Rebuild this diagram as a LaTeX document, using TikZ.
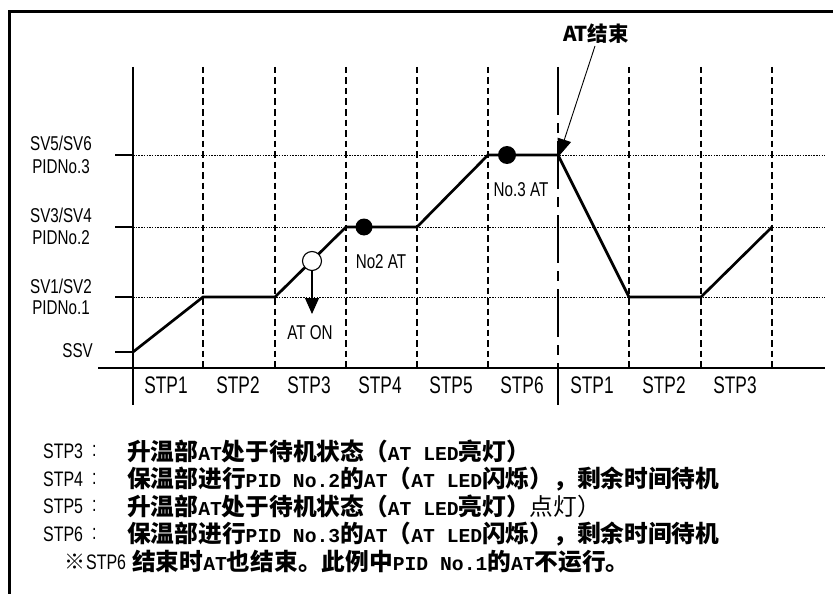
\documentclass[tikz,border=0pt]{standalone}
\usepackage{fontspec}
\usetikzlibrary{arrows.meta}
\newfontfamily\labf[FakeStretch=0.76]{Liberation Sans}
\newfontfamily\stpf[FakeStretch=0.72]{Liberation Sans}
\newfontfamily\cjkf{Noto Sans CJK SC}
\newfontfamily\monof{Liberation Mono}
\newcommand\ZH[1]{{\cjkf\bfseries #1}}
\newcommand\LA[1]{{\monof\bfseries\fontsize{19.7}{24}\selectfont #1}}
\tikzset{
  frameline/.style={line width=3pt},
  axisline/.style={line width=2.8pt},
  profline/.style={line width=2.7pt, line join=round},
  vdash/.style={line width=2.6pt, dash pattern=on 6.5pt off 4pt},
  atdash/.style={line width=2.5pt, dash pattern=on 48pt off 8pt on 10pt off 8pt},
  hdot/.style={line width=1pt, dash pattern=on 1.5pt off 1.2pt},
  lbl/.style={inner sep=0pt, font=\labf\fontsize{20}{24}\selectfont},
  leglbl/.style={inner sep=0pt, anchor=west, font=\labf\fontsize{21}{25}\selectfont},
  stplbl/.style={inner sep=0pt, font=\stpf\fontsize{24}{28}\selectfont},
  smalllbl/.style={inner sep=0pt, font=\labf\fontsize{20}{24}\selectfont},
  legend/.style={inner sep=0pt, anchor=west, font=\cjkf\fontsize{23.7}{28}\selectfont},
  opendot/.style={circle, draw, line width=1.1pt, fill=white, minimum size=19pt, inner sep=0pt},
  fulldot/.style={circle, fill=black, minimum size=18pt, inner sep=0pt},
  thinarrow/.style={line width=1.1pt, -{Triangle[length=16pt,width=14pt]}},
}
\begin{document}
\begin{tikzpicture}[x=1pt,y=-1pt]
\useasboundingbox (0,0) rectangle (833,594);
\fill[white] (0,0) rectangle (833,594);
\draw[frameline] (9,594) -- (9,12) -- (833,12);

% level dotted lines
\foreach \y in {155,227,297} \draw[hdot] (133,\y) -- (825,\y);
% ticks
\foreach \y in {155,227,297,352} \draw[axisline] (115,\y) -- (133,\y);
% step dashed lines
\foreach \x in {203,275,346,417,488,629,701,772} \draw[vdash] (\x,67) -- (\x,368);
% AT end line
\draw[atdash] (558,67) -- (558,405);
% axes
\draw[axisline] (133,67) -- (133,405);
\draw[axisline] (98,368) -- (825,368);

% profile
\coordinate (p0) at (133,352);
\coordinate (p1) at (203,297);
\coordinate (p2) at (275,297);
\coordinate (p3) at (346,227);
\coordinate (p4) at (417,227);
\coordinate (p5) at (488,155);
\coordinate (p6) at (558,155);
\coordinate (p7) at (629,297);
\coordinate (p8) at (701,297);
\coordinate (p9) at (772,227);
\draw[profline] (p0) -- (p1) -- (p2) -- (p3) -- (p4) -- (p5) -- (p6) -- (p7) -- (p8) -- (p9);

% markers
\node[opendot] (oc) at (312,261) {};
\node[fulldot, minimum size=17pt] (fc2) at (364,227) {};
\node[fulldot] (fc3) at (507,155) {};
\coordinate (ontip) at (312,314);
\draw[thinarrow] (oc.south) -- (ontip);

\node[smalllbl] (aton) at (310,333) {AT ON};
\node[smalllbl] (no2) at (381,262) {No2 AT};
\node[smalllbl] (no3) at (521,190) {No.3 AT};

\node[inner sep=0pt, font=\cjkf\bfseries\fontsize{20.5}{24}\selectfont] (atend) at (596,34) {AT结束};
\coordinate (atip) at (559,156);
\draw[line width=0.9pt, -{Triangle[length=17pt,width=14pt]}] ([xshift=-1pt,yshift=-2pt]atend.south) -- (atip);

% level labels
\node[lbl] (sv56) at (61,143) {SV5/SV6};
\node[lbl] (pid3) at (61,167) {PIDNo.3};
\node[lbl] (sv34) at (61,215) {SV3/SV4};
\node[lbl] (pid2) at (61,238) {PIDNo.2};
\node[lbl] (sv12) at (61,286) {SV1/SV2};
\node[lbl] (pid1) at (61,308) {PIDNo.1};
\node[lbl, anchor=east] (ssv) at (93,351) {SSV};

% step labels
\node[stplbl] (s1) at (166,385) {STP1};
\node[stplbl] (s2) at (238,385) {STP2};
\node[stplbl] (s3) at (309,385) {STP3};
\node[stplbl] (s4) at (380,385) {STP4};
\node[stplbl] (s5) at (451,385) {STP5};
\node[stplbl] (s6) at (522,385) {STP6};
\node[stplbl] (r1) at (592,385) {STP1};
\node[stplbl] (r2) at (664,385) {STP2};
\node[stplbl] (r3) at (735,385) {STP3};

% legend
\node[leglbl] (l3a) at (43,451) {STP3};
\node[leglbl] (l3b) at (92,451) {:};
\node[legend] (l3c) at (127,451) {\ZH{升温部}\LA{AT}\ZH{处于待机状态（}\LA{AT LED}\ZH{亮灯）}};

\node[leglbl] (l4a) at (43,479) {STP4};
\node[leglbl] (l4b) at (92,479) {:};
\node[legend] (l4c) at (127,479) {\ZH{保温部进行}\LA{PID No.2}\ZH{的}\LA{AT}\ZH{（}\LA{AT LED}\ZH{闪烁），剩余时间待机}};

\node[leglbl] (l5a) at (43,506) {STP5};
\node[leglbl] (l5b) at (92,506) {:};
\node[legend] (l5c) at (127,506) {\ZH{升温部}\LA{AT}\ZH{处于待机状态（}\LA{AT LED}\ZH{亮灯）}点灯）};

\node[leglbl] (l6a) at (43,534) {STP6};
\node[leglbl] (l6b) at (92,534) {:};
\node[legend] (l6c) at (127,534) {\ZH{保温部进行}\LA{PID No.3}\ZH{的}\LA{AT}\ZH{（}\LA{AT LED}\ZH{闪烁），剩余时间待机}};

\node[legend, font=\cjkf\fontsize{21}{24}\selectfont] (l7a) at (64,562) {※};
\node[leglbl] (l7b) at (86,562) {STP6};
\node[legend] (l7c) at (132,562) {\ZH{结束时}\LA{AT}\ZH{也结束。此例中}\LA{PID No.1}\ZH{的}\LA{AT}\ZH{不运行。}};
\end{tikzpicture}
\end{document}
